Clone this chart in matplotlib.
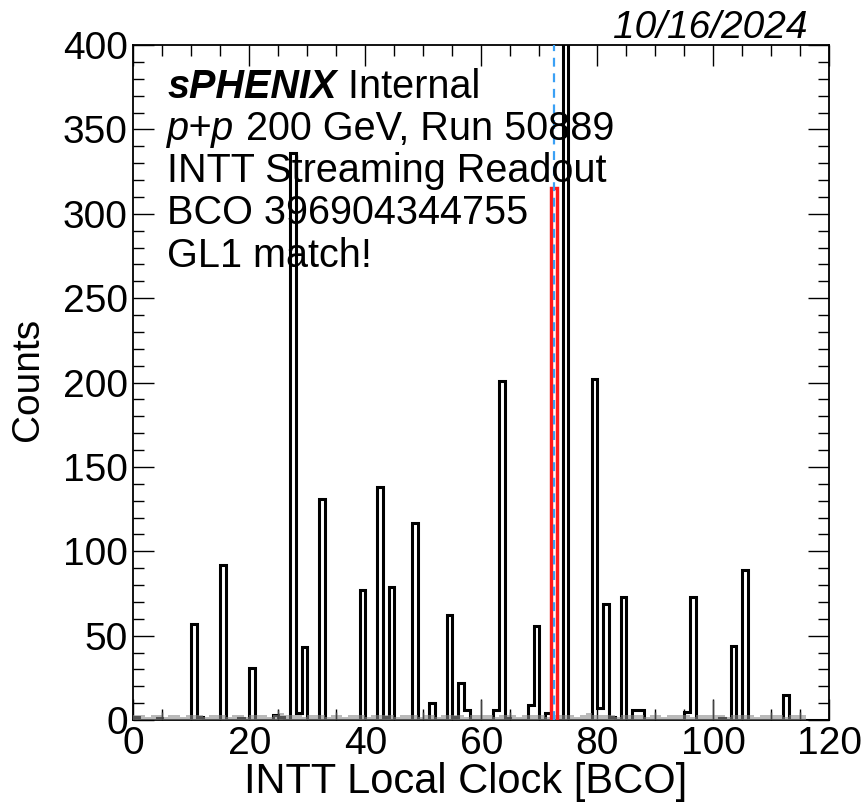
import matplotlib
matplotlib.use("Agg")
import matplotlib.pyplot as plt
import numpy as np
from matplotlib.ticker import MultipleLocator

plt.rcParams['font.family'] = ['Liberation Sans', 'DejaVu Sans']

# INTT hit counts per local BCO bin (bins 0..119, width 1)
counts = [
    2, 0, 0, 0, 1, 0, 0, 0, 0, 0,        # 0-9
    57, 2, 0, 0, 0, 92, 0, 0, 1, 0,      # 10-19
    31, 0, 0, 0, 3, 2, 0, 336, 4, 43,    # 20-29
    0, 0, 131, 0, 0, 0, 0, 0, 0, 77,     # 30-39
    0, 0, 138, 2, 79, 0, 0, 0, 117, 0,   # 40-49
    0, 10, 0, 0, 62, 2, 22, 6, 0, 0,     # 50-59
    0, 0, 6, 201, 1, 0, 0, 0, 9, 56,     # 60-69
    0, 4, 315, 0, 450, 0, 0, 0, 0, 202,  # 70-79
    7, 69, 2, 0, 73, 0, 6, 6, 0, 0,      # 80-89
    0, 0, 0, 0, 0, 5, 73, 0, 0, 0,       # 90-99
    0, 1, 0, 44, 0, 89, 0, 0, 0, 0,      # 100-109
    0, 0, 15, 0, 0, 0, 0, 0, 0, 0,       # 110-119
]

# background level (grey band)
background = [
    3, 3, 2, 3, 3, 2, 3, 3, 2, 3,
    3, 3, 2, 3, 3, 3, 2, 3, 3, 2,
    3, 3, 3, 2, 3, 4, 3, 3, 3, 2,
    3, 3, 3, 2, 3, 3, 2, 3, 3, 3,
    2, 3, 3, 3, 3, 2, 3, 3, 3, 2,
    3, 3, 2, 3, 3, 3, 3, 2, 3, 3,
    3, 3, 2, 3, 3, 3, 2, 3, 3, 3,
    3, 2, 3, 3, 3, 3, 2, 3, 4, 3,
    3, 3, 3, 2, 3, 3, 3, 3, 2, 3,
    3, 2, 3, 3, 3, 3, 2, 3, 3, 3,
    3, 3, 2, 3, 3, 3, 3, 2, 3, 3,
    3, 3, 2, 3, 3, 3, 0, 0, 0, 0,
]

spike_x = [5, 25, 35, 50, 60, 65, 90, 100, 110, 115]
spike_h = [5, 6, 5, 5, 12, 5, 5, 12, 5, 5]

gl1_bin = 72
gl1_count = 315
edges = np.arange(0, 121)

fig = plt.figure(figsize=(8.66, 8.08), dpi=100)
ax = fig.add_axes([0.154, 0.1089, 0.8036, 0.8354])

ax.stairs(counts, edges, color='black', lw=2.2, baseline=0, zorder=3)
ax.stairs(background, edges, fill=True, color='#8c8c8c', alpha=0.6, zorder=4)
ax.vlines(spike_x, 0, spike_h, color='#444444', lw=1.0, zorder=4)
ax.stairs([gl1_count], [gl1_bin, gl1_bin + 1], color='#ff1a1a', lw=2.4, zorder=5)
ax.axvline(gl1_bin + 0.5, color='#3aa0f5', lw=1.6, ls=(0, (4, 3)), zorder=6)

ax.set_xlim(0, 120)
ax.set_ylim(0, 400)
ax.xaxis.set_major_locator(MultipleLocator(20))
ax.xaxis.set_minor_locator(MultipleLocator(5))
ax.yaxis.set_major_locator(MultipleLocator(50))
ax.yaxis.set_minor_locator(MultipleLocator(10))
ax.tick_params(which='both', direction='in', top=True, right=True, width=1.0, labelsize=28)
ax.tick_params(which='major', length=15, pad=4)
ax.tick_params(which='minor', length=8)
for s in ax.spines.values():
    s.set_linewidth(1.3)

ax.set_xlabel('INTT Local Clock [BCO]', fontsize=30)
ax.set_ylabel('Counts', fontsize=28)
ax.xaxis.set_label_coords(0.478, -0.062)
ax.yaxis.set_label_coords(-0.125, 0.505)

# annotation block
fs = 28.5
x0 = 0.049
lines_y = [0.921, 0.859, 0.797, 0.735, 0.671]
t1 = ax.text(x0, lines_y[0], 'sPHENIX', transform=ax.transAxes, fontsize=fs,
             fontweight='bold', fontstyle='italic', va='baseline', zorder=7)
ax.annotate(' Internal', xy=(1, 0), xycoords=t1, fontsize=fs, va='bottom', zorder=7)
t2 = ax.text(x0, lines_y[1], 'p+p', transform=ax.transAxes, fontsize=fs,
             fontstyle='italic', va='baseline', zorder=7)
ax.annotate(' 200 GeV, Run 50889', xy=(1, 0), xycoords=t2, fontsize=fs, va='bottom', zorder=7)
ax.text(x0, lines_y[2], 'INTT Streaming Readout', transform=ax.transAxes, fontsize=fs,
        va='baseline', zorder=7)
ax.text(x0, lines_y[3], 'BCO 396904344755', transform=ax.transAxes, fontsize=fs,
        va='baseline', zorder=7)
ax.text(x0, lines_y[4], 'GL1 match!', transform=ax.transAxes, fontsize=fs,
        va='baseline', zorder=7)

fig.text(0.933, 0.953, '10/16/2024', fontsize=28, fontstyle='italic',
         ha='right', va='baseline')

fig.savefig('out.png', dpi=100)
